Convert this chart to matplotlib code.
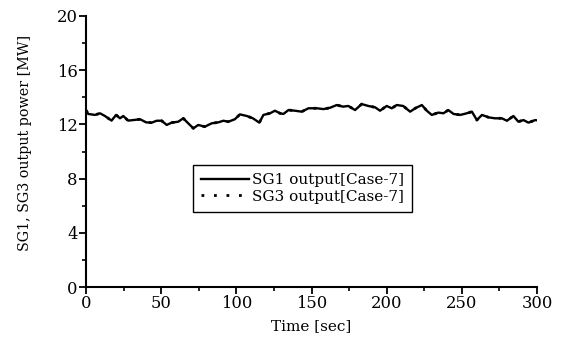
import numpy as np
import matplotlib
matplotlib.use('Agg')
import matplotlib.pyplot as plt
from matplotlib.ticker import MultipleLocator

# values (time in sec, power in MW)
time_s = [0, 1.5, 6, 9.3, 12.6, 17, 20, 22.6, 24.8, 28, 31.5, 36, 40, 43.7, 47,
          50.3, 53.7, 57, 61.4, 64.7, 68, 71.4, 74.7, 79, 83.6, 88, 91.4, 94.7,
          99, 102.4, 107, 111, 115.3, 118, 122.4, 125.7, 129, 131.3, 134.7, 139,
          143.5, 148, 153.5, 158, 162.4, 166.8, 171, 174.5, 179, 183.4, 187.8,
          192.3, 195.6, 200, 203.4, 206.7, 211, 215.6, 219, 223.4, 226.7, 230,
          234.4, 237.8, 241, 244.5, 249, 253.3, 256.7, 260, 263.4, 267.8, 272,
          276.6, 280, 284.3, 287.6, 291, 294.3, 298.8, 300]
sg1_mw = [13.05, 12.77, 12.7, 12.82, 12.62, 12.28, 12.7, 12.45, 12.62, 12.28,
          12.32, 12.38, 12.15, 12.13, 12.27, 12.27, 11.96, 12.13, 12.2, 12.45,
          12.08, 11.71, 11.96, 11.83, 12.08, 12.15, 12.27, 12.2, 12.38, 12.74,
          12.62, 12.45, 12.13, 12.7, 12.82, 13.01, 12.82, 12.77, 13.06, 13.01,
          12.94, 13.19, 13.19, 13.13, 13.23, 13.43, 13.31, 13.36, 13.06, 13.5,
          13.36, 13.26, 13.01, 13.36, 13.19, 13.43, 13.36, 12.94, 13.19, 13.43,
          13.01, 12.7, 12.87, 12.82, 13.06, 12.77, 12.7, 12.82, 12.94, 12.32,
          12.7, 12.52, 12.45, 12.45, 12.27, 12.62, 12.2, 12.32, 12.13, 12.32, 12.3]
sg3_mw = [13.05, 12.77, 12.7, 12.82, 12.62, 12.28, 12.7, 12.45, 12.62, 12.28,
          12.32, 12.38, 12.15, 12.13, 12.27, 12.27, 11.96, 12.13, 12.2, 12.45,
          12.08, 11.71, 11.96, 11.83, 12.08, 12.15, 12.27, 12.2, 12.38, 12.74,
          12.62, 12.45, 12.13, 12.7, 12.82, 13.01, 12.82, 12.77, 13.06, 13.01,
          12.94, 13.19, 13.19, 13.13, 13.23, 13.43, 13.31, 13.36, 13.06, 13.5,
          13.36, 13.26, 13.01, 13.36, 13.19, 13.43, 13.36, 12.94, 13.19, 13.43,
          13.01, 12.7, 12.87, 12.82, 13.06, 12.77, 12.7, 12.82, 12.94, 12.32,
          12.7, 12.52, 12.45, 12.45, 12.27, 12.62, 12.2, 12.32, 12.13, 12.32, 12.3]

plt.rcParams['font.family'] = ['DejaVu Serif']

fig = plt.figure(figsize=(5.61, 3.47), dpi=100)
ax = fig.add_axes([86/561, 1 - 287/347, 451/561, 271/347])

ax.plot(time_s, sg3_mw, color='black', linestyle=(0, (1, 3.5)), linewidth=2.0,
        label='SG3 output[Case-7]')
ax.plot(time_s, sg1_mw, color='black', linestyle='-', linewidth=1.7,
        label='SG1 output[Case-7]')

ax.set_xlim(0, 300)
ax.set_ylim(0, 20)
ax.xaxis.set_major_locator(MultipleLocator(50))
ax.xaxis.set_minor_locator(MultipleLocator(25))
ax.yaxis.set_major_locator(MultipleLocator(4))
ax.yaxis.set_minor_locator(MultipleLocator(2))

for side in ['top', 'right']:
    ax.spines[side].set_visible(False)
for side in ['left', 'bottom']:
    ax.spines[side].set_linewidth(1.5)
ax.tick_params(which='major', direction='out', length=5, width=1.3,
               labelsize=11.8, pad=1)
ax.tick_params(which='minor', direction='out', length=3, width=1.2)

ax.set_xlabel('Time [sec]', fontsize=11, labelpad=5)
ax.set_ylabel('SG1, SG3 output power [MW]', fontsize=10.3)
ax.yaxis.set_label_coords(-0.12, 0.531)

handles, labels = ax.get_legend_handles_labels()
leg = ax.legend(handles[::-1], labels[::-1], loc='upper left',
                bbox_to_anchor=(0.237, 0.45),
                fontsize=11, frameon=True, fancybox=False, framealpha=1,
                edgecolor='black', handlelength=3.1, handletextpad=0.2,
                borderpad=0.55, labelspacing=0.15, borderaxespad=0)
leg.get_frame().set_linewidth(1.0)

fig.savefig('out.png', dpi=100)
